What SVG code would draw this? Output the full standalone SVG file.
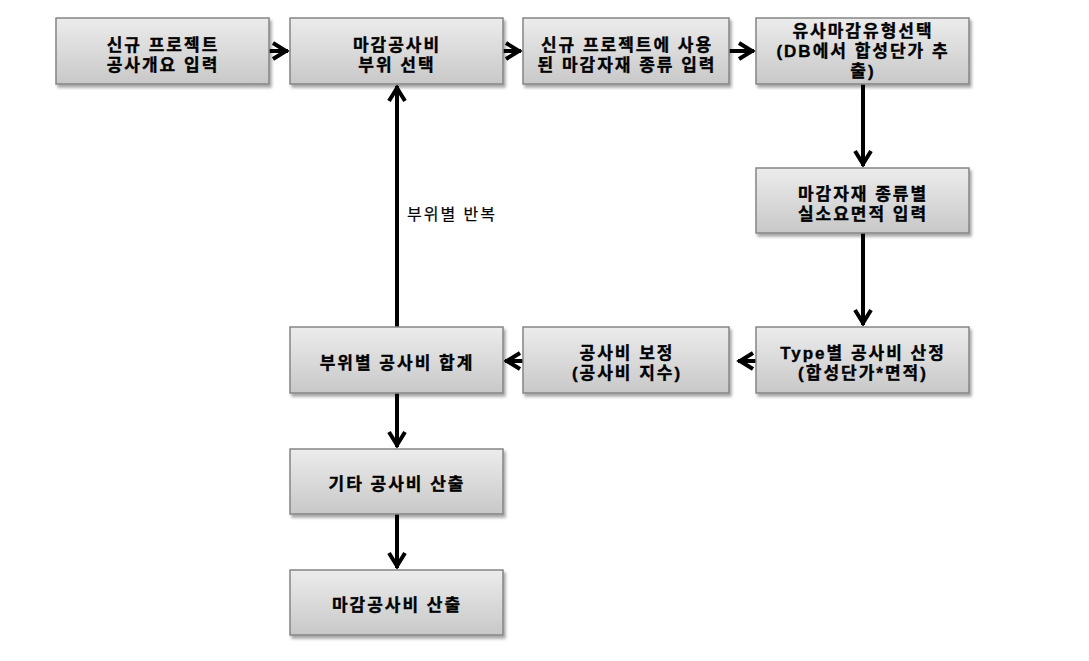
<svg xmlns="http://www.w3.org/2000/svg" width="1089" height="661" viewBox="0 0 1089 661">
<style>
.box{fill:url(#g);stroke:#858585;stroke-width:1.5;filter:url(#sh)}
.t{font-family:"Liberation Sans","Noto Sans CJK KR",sans-serif;font-weight:bold;font-size:17px;letter-spacing:2px;fill:#000;stroke:#000;stroke-width:0.35px;text-anchor:middle}
.lbl{font-family:"Liberation Sans","Noto Sans CJK KR",sans-serif;font-size:16px;letter-spacing:2px;fill:#000;stroke:#000;stroke-width:0.2px}
.c{stroke:#000;stroke-width:4;fill:none;marker-end:url(#ah)}
</style>
<defs>
<linearGradient id="g" x1="0" y1="0" x2="0" y2="1">
<stop offset="0" stop-color="#ececec"/>
<stop offset="1" stop-color="#c8c8c8"/>
</linearGradient>
<filter id="sh" x="-10%" y="-10%" width="125%" height="135%">
<feDropShadow dx="2" dy="3" stdDeviation="1.5" flood-color="#000" flood-opacity="0.35"/>
</filter>
<marker id="ah" markerUnits="userSpaceOnUse" markerWidth="24" markerHeight="24" viewBox="-16 -12 24 24" refX="2" refY="0" orient="auto">
<path d="M-13,-8 L0,0 L-13,8" stroke="#000" stroke-width="4" fill="none"/>
</marker>
</defs>
<rect width="1089" height="661" fill="#fff"/>
<g id="connectors">
<line class="c" x1="269" y1="51" x2="288" y2="51"/>
<line class="c" x1="503" y1="51" x2="521" y2="51"/>
<line class="c" x1="729" y1="51" x2="754" y2="51"/>
<line class="c" x1="863" y1="84" x2="863" y2="166"/>
<line class="c" x1="863" y1="233" x2="863" y2="325"/>
<line class="c" x1="756" y1="361" x2="738" y2="361"/>
<line class="c" x1="523" y1="361" x2="505" y2="361"/>
<line class="c" x1="397" y1="327" x2="397" y2="86"/>
<line class="c" x1="397" y1="393" x2="397" y2="447"/>
<line class="c" x1="397" y1="514" x2="397" y2="568"/>
</g>
<text class="lbl" x="407" y="220">부위별 반복</text>
<g id="n1"><rect class="box" x="56" y="18" width="213" height="66"/><text class="t" x="163" y="51">신규 프로젝트</text><text class="t" x="163" y="71">공사개요 입력</text></g>
<g id="n2"><rect class="box" x="290" y="18" width="213" height="66"/><text class="t" x="397" y="51">마감공사비</text><text class="t" x="397" y="71">부위 선택</text></g>
<g id="n3"><rect class="box" x="523" y="18" width="206" height="66"/><text class="t" x="627" y="51">신규 프로젝트에 사용</text><text class="t" x="627" y="71">된 마감자재 종류 입력</text></g>
<g id="n4"><rect class="box" x="756" y="18" width="213" height="66"/><text class="t" x="863" y="37">유사마감유형선택</text><text class="t" x="863" y="57">(DB에서 합성단가 추</text><text class="t" x="863" y="77">출)</text></g>
<g id="n5"><rect class="box" x="756" y="168" width="213" height="65"/><text class="t" x="863" y="200">마감자재 종류별</text><text class="t" x="863" y="220">실소요면적 입력</text></g>
<g id="n6"><rect class="box" x="756" y="327" width="213" height="66"/><text class="t" x="863" y="359">Type별 공사비 산정</text><text class="t" x="863" y="379">(합성단가*면적)</text></g>
<g id="n7"><rect class="box" x="523" y="327" width="206" height="66"/><text class="t" x="627" y="359">공사비 보정</text><text class="t" x="627" y="379">(공사비 지수)</text></g>
<g id="n8"><rect class="box" x="290" y="327" width="213" height="66"/><text class="t" x="397" y="369">부위별 공사비 합계</text></g>
<g id="n9"><rect class="box" x="290" y="449" width="213" height="65"/><text class="t" x="397" y="490">기타 공사비 산출</text></g>
<g id="n10"><rect class="box" x="290" y="570" width="213" height="65"/><text class="t" x="397" y="611">마감공사비 산출</text></g>
</svg>
